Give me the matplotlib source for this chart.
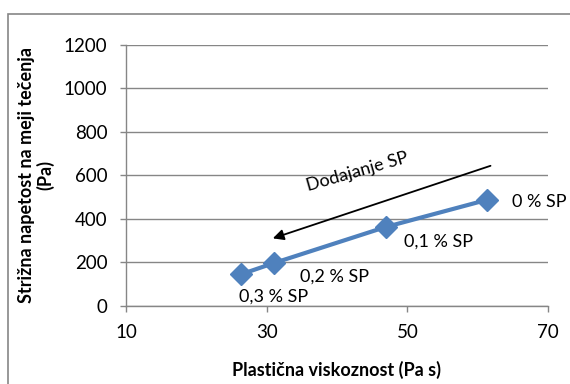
import matplotlib
matplotlib.use("Agg")
import matplotlib.pyplot as plt
from matplotlib.patches import Rectangle

plt.rcParams["font.family"] = ["Lato", "DejaVu Sans"]

# podatki: plastična viskoznost in strižna napetost na meji tečenja
viskoznost = [26.4, 31.0, 46.9, 61.3]
napetost = [145, 196, 362, 487]
oznake = ["0,3 % SP", "0,2 % SP", "0,1 % SP", "0 % SP"]
zamiki = [(-2, -16), (19, -9.5), (13, -10.5), (18, -1.5)]

fig = plt.figure(figsize=(5.7, 3.84), dpi=100)
ax = fig.add_axes([126 / 570, 1 - 305.7 / 384, 422 / 570, 260.7 / 384])

siva = "#868686"
ax.plot(viskoznost, napetost, color="#4F81BD", lw=3, marker="D",
        markersize=11, zorder=3, solid_capstyle="round")

for x, y, t, off in zip(viskoznost, napetost, oznake, zamiki):
    ax.annotate(t, (x, y), xytext=off, textcoords="offset points",
                ha="left", va="center", fontsize=13)

# puščica za dodajanje SP
ax.annotate("", xy=(30.5, 306), xytext=(62.2, 648),
            arrowprops=dict(arrowstyle="-|>", color="black", lw=1.3,
                            mutation_scale=16), zorder=4)
ax.text(42.9, 614, "Dodajanje SP", rotation=16, ha="center", va="center",
        fontsize=13, rotation_mode="anchor")

ax.set_xlim(10, 70)
ax.set_ylim(0, 1200)
ax.set_xticks([10, 30, 50, 70])
ax.set_yticks(range(0, 1201, 200))
ax.grid(axis="y", color=siva, lw=1)
ax.set_axisbelow(True)
for s in ["top", "right"]:
    ax.spines[s].set_visible(False)
for s in ["left", "bottom"]:
    ax.spines[s].set_color(siva)
    ax.spines[s].set_linewidth(1)
ax.tick_params(axis="both", color=siva, length=4.5, width=1, labelsize=13.5,
               direction="out")
ax.tick_params(axis="x", pad=9)
ax.tick_params(axis="y", pad=9)

ax.set_xlabel("Plastična viskoznost (Pa s)", fontsize=13, fontweight="bold",
              labelpad=14)
ax.set_ylabel("Strižna napetost na meji tečenja\n(Pa)", fontsize=13,
              fontweight="bold", labelpad=7, linespacing=1.05)

fig.patches.append(Rectangle((8 / 570, -0.1), 1.2, 1 - 14 / 384 + 0.1,
                             transform=fig.transFigure, fill=False,
                             edgecolor=siva, lw=1.2))

fig.savefig("out.png", dpi=100)
